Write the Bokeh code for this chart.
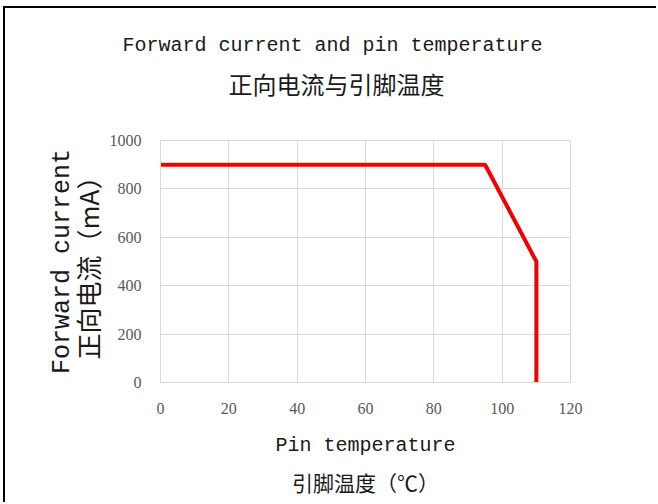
from bokeh.plotting import figure
from bokeh.models import Title, FixedTicker, LinearAxis
from bokeh.embed import file_html
from bokeh.resources import INLINE

# data
temperature = [0, 95, 110, 110]
current = [900, 900, 500, 0]
x_ticks = [0, 20, 40, 60, 80, 100, 120]
y_ticks = [0, 200, 400, 600, 800, 1000]

title_en = "Forward current and pin temperature"
title_zh = "正向电流与引脚温度"
xlabel_en = "Pin temperature"
xlabel_zh = "引脚温度（℃）"
ylabel_en = "Forward current"
ylabel_zh = "正向电流（mA）"

EN = "Liberation Mono"
ZH = "Noto Sans CJK SC"
GRID = "#d9d9d9"
TXT = "#1a1a1a"

p = figure(width=653, height=496, x_range=(0, 120), y_range=(0, 1000),
           output_backend="svg", toolbar_location=None,
           min_border_left=155, min_border_right=88,
           min_border_top=132, min_border_bottom=122)
p.styles = {"margin-left": "3px", "margin-top": "6px",
            "border-left": "2px solid black", "border-top": "2px solid black"}

p.line(temperature, current, line_color="#f00000", line_width=4)

# titles (first added is closest to the plot); a blank spacer title first
p.title = None
p.add_layout(Title(text=" ", text_font_size="1px", standoff=31), "above")
p.add_layout(Title(text=title_zh, text_font=ZH, text_font_size="24px",
                   text_font_style="normal", text_color=TXT, align="left",
                   offset=68, standoff=11), "above")
p.add_layout(Title(text=title_en, text_font=EN, text_font_size="20px",
                   text_font_style="normal", text_color=TXT, align="left",
                   offset=-38, standoff=4), "above")

def style_axis(ax):
    ax.axis_line_color = GRID
    ax.major_tick_line_color = None
    ax.minor_tick_line_color = None
    ax.major_label_text_font = "Liberation Serif"
    ax.major_label_text_font_size = "16px"
    ax.major_label_text_color = "#595959"
    ax.axis_label_text_font_style = "normal"
    ax.axis_label_text_color = TXT

style_axis(p.xaxis[0])
style_axis(p.yaxis[0])
p.xaxis.ticker = FixedTicker(ticks=x_ticks)
p.yaxis.ticker = FixedTicker(ticks=y_ticks)
p.xaxis.major_label_standoff = 14
p.yaxis.major_label_standoff = 13

p.xaxis.axis_label = xlabel_en
p.xaxis.axis_label_text_font = EN
p.xaxis.axis_label_text_font_size = "20px"
p.xaxis.axis_label_standoff = 17

p.yaxis.axis_label = ylabel_zh
p.yaxis.axis_label_text_font = ZH
p.yaxis.axis_label_text_font_size = "26px"
p.yaxis.axis_label_standoff = 1

# second-line labels on extra, otherwise empty axes
x2 = LinearAxis(ticker=FixedTicker(ticks=[]), axis_line_color=None,
                major_tick_line_color=None, minor_tick_line_color=None,
                major_label_text_font_size="0px",
                axis_label=xlabel_zh, axis_label_text_font=ZH,
                axis_label_text_font_size="21px", axis_label_text_font_style="normal",
                axis_label_text_color=TXT, axis_label_standoff=7)
p.add_layout(x2, "below")

y2 = LinearAxis(ticker=FixedTicker(ticks=[]), axis_line_color=None,
                major_tick_line_color=None, minor_tick_line_color=None,
                major_label_text_font_size="0px",
                axis_label=ylabel_en, axis_label_text_font=EN,
                axis_label_text_font_size="25px", axis_label_text_font_style="normal",
                axis_label_text_color=TXT, axis_label_standoff=-11)
p.add_layout(y2, "left")

p.xgrid.grid_line_color = GRID
p.ygrid.grid_line_color = GRID
p.xgrid.ticker = FixedTicker(ticks=x_ticks)
p.ygrid.ticker = FixedTicker(ticks=y_ticks)
p.outline_line_color = GRID

open("out.html", "w").write(file_html(p, INLINE))
